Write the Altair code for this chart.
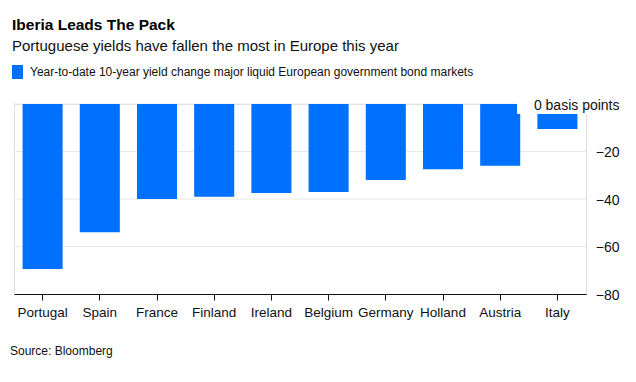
import altair as alt
import pandas as pd

countries = ["Portugal", "Spain", "France", "Finland", "Ireland",
             "Belgium", "Germany", "Holland", "Austria", "Italy"]
changes = [-69.5, -54, -40, -39, -37.5, -37, -32, -27.5, -26, -10.5]
grid_values = [0, -20, -40, -60]
y_ticks = [0, -20, -40, -60, -80]

title = "Iberia Leads The Pack"
subtitle = "Portuguese yields have fallen the most in Europe this year"
legend_label = "Year-to-date 10-year yield change major liquid European government bond markets"
source = "Source: Bloomberg"

BLUE = "#0070ff"
SANS = "Liberation Sans, Arial, sans-serif"

df = pd.DataFrame({"country": countries, "change": changes})
grid_df = pd.DataFrame({"v": grid_values})

yscale = alt.Scale(domain=[-80, 0], nice=False, zero=False)
yaxis = alt.Axis(orient="right", values=y_ticks, title=None, grid=False,
                 ticks=False, domain=False, labelAlign="right",
                 labelBaseline="middle", labelPadding=33, labelOffset=1,
                 labelFont=SANS, labelFontSize=14, labelColor="#111",
                 zindex=1,
                 labelExpr="datum.value == 0 ? '0 basis points' : datum.label")

grid = alt.Chart(grid_df).mark_rule(color="#e8e8e8", strokeWidth=1).encode(
    y=alt.Y("v:Q", scale=yscale, axis=yaxis)
)

bars = alt.Chart(df).mark_bar(color=BLUE).encode(
    x=alt.X("country:N", sort=countries,
            scale=alt.Scale(paddingInner=0.3, paddingOuter=0.15),
            axis=alt.Axis(title=None, labelAngle=0, labelFont=SANS, labelFontSize=13.5,
                          labelColor="#111", domainColor="#111", tickColor="#111",
                          tickSize=6, labelPadding=5, grid=False)),
    y=alt.Y("change:Q", scale=yscale, axis=yaxis),
)

mask = alt.Chart(pd.DataFrame({"a": [0]})).mark_rect(color="white").encode(
    x=alt.value(503), x2=alt.value(610), y=alt.value(-8), y2=alt.value(10)
)

def txt(text, x, y, size, weight="normal", color="#111"):
    return alt.Chart(pd.DataFrame({"t": [text]})).mark_text(
        align="left", baseline="alphabetic", font=SANS, fontSize=size,
        fontWeight=weight, color=color
    ).encode(text="t:N", x=alt.value(x), y=alt.value(y))

t_title = txt(title, -2, -74, 15.5, "bold", "#000")
t_sub = txt(subtitle, -2, -53, 15)
t_leg = txt(legend_label, 16, -28, 12)
leg_sq = alt.Chart(pd.DataFrame({"a": [0]})).mark_rect(color=BLUE).encode(
    x=alt.value(-2), x2=alt.value(9), y=alt.value(-39), y2=alt.value(-25)
)
t_src = txt(source, -4, 251, 12)

chart = alt.layer(grid, bars, mask, t_title, t_sub, t_leg, leg_sq, t_src).properties(
    width=572, height=190,
    autosize=alt.AutoSizeParams(type="none"),
    padding={"left": 6, "top": 96, "right": 34, "bottom": 74},
).configure_view(stroke=None).configure(background="white")

chart.save("out.html", embed_options={"renderer": "svg", "actions": False})
